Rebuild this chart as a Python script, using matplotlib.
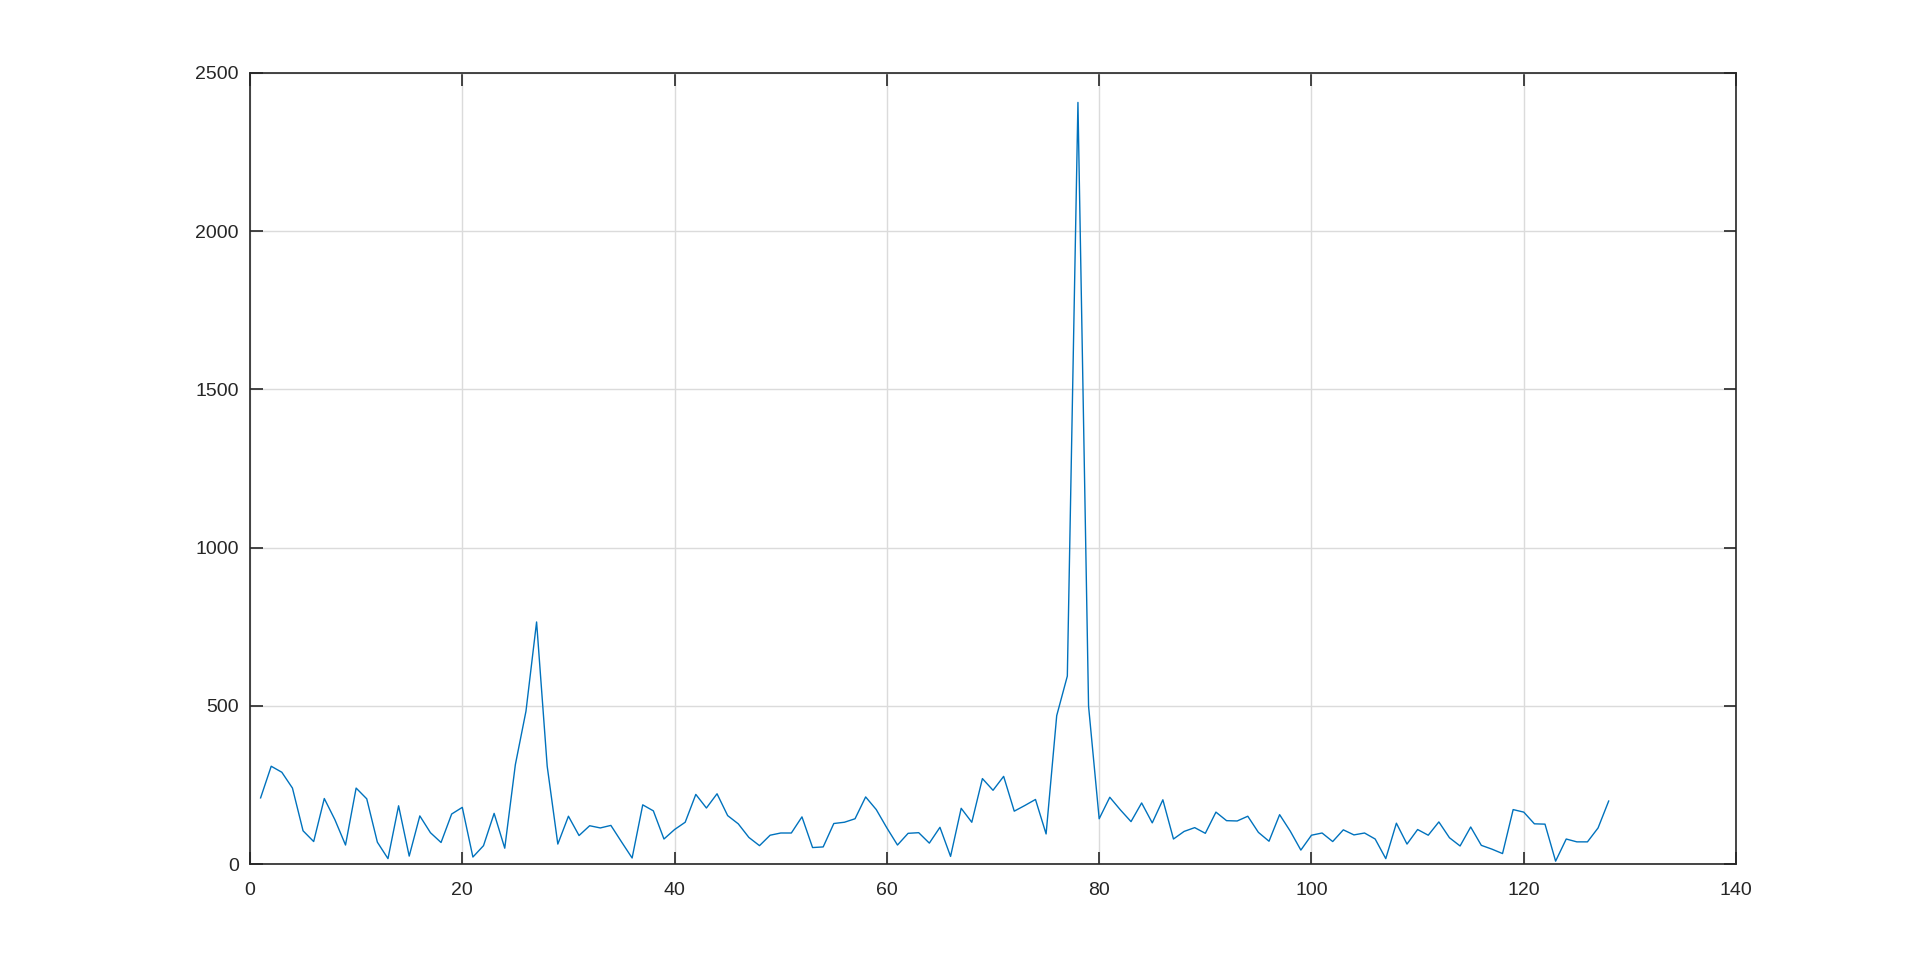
import numpy as np
import matplotlib
matplotlib.use("Agg")
import matplotlib.pyplot as plt

x_values = list(range(1, 129))
y_values = [
    209, 309, 290, 240, 105, 71, 207, 140, 60, 240,
    206, 69, 17, 184, 25, 152, 99, 68, 158, 179,
    22, 58, 160, 50, 314, 483, 765, 309, 63, 151,
    90, 121, 114, 122, 70, 19, 187, 168, 79, 109,
    132, 220, 177, 222, 153, 127, 84, 58, 91, 98,
    98, 149, 52, 54, 128, 132, 143, 212, 172, 114,
    60, 97, 99, 66, 116, 24, 176, 132, 270, 233,
    277, 167, 185, 204, 95, 469, 594, 2407, 499, 143,
    211, 171, 134, 193, 130, 203, 79, 103, 115, 97,
    164, 137, 136, 151, 100, 72, 156, 104, 44, 91,
    98, 71, 108, 92, 98, 79, 17, 129, 63, 109,
    91, 133, 83, 57, 117, 59, 47, 33, 172, 164,
    127, 126, 9, 79, 70, 70, 114, 199,
]
x_ticks = [0, 20, 40, 60, 80, 100, 120, 140]
y_ticks = [0, 500, 1000, 1500, 2000, 2500]

plt.rcParams['font.family'] = ['Liberation Sans', 'DejaVu Sans']

fig = plt.figure(figsize=(19.2, 9.72), dpi=100)
ax = fig.add_axes([0.1302, 0.1111, 0.7740, 0.8138])

ax.plot(x_values, y_values, color=(0, 0.447, 0.741), linewidth=1.0)

ax.set_xlim(0, 140)
ax.set_ylim(0, 2500)
ax.set_xticks(x_ticks)
ax.set_yticks(y_ticks)
ax.set_xticklabels([str(v) for v in x_ticks])
ax.set_yticklabels([str(v) for v in y_ticks])

dark = (0.15, 0.15, 0.15)
ax.grid(True, color=(0.86, 0.86, 0.86), linewidth=1.0)
ax.set_axisbelow(True)
for s in ax.spines.values():
    s.set_color(dark)
    s.set_linewidth(1.2)
ax.tick_params(axis='both', direction='in', length=9, width=1.2, color=dark,
               labelsize=14, labelcolor=dark, top=True, right=True)
ax.tick_params(axis='x', pad=13)
ax.tick_params(axis='y', pad=8)

fig.savefig("out.png", dpi=100, facecolor='white')
